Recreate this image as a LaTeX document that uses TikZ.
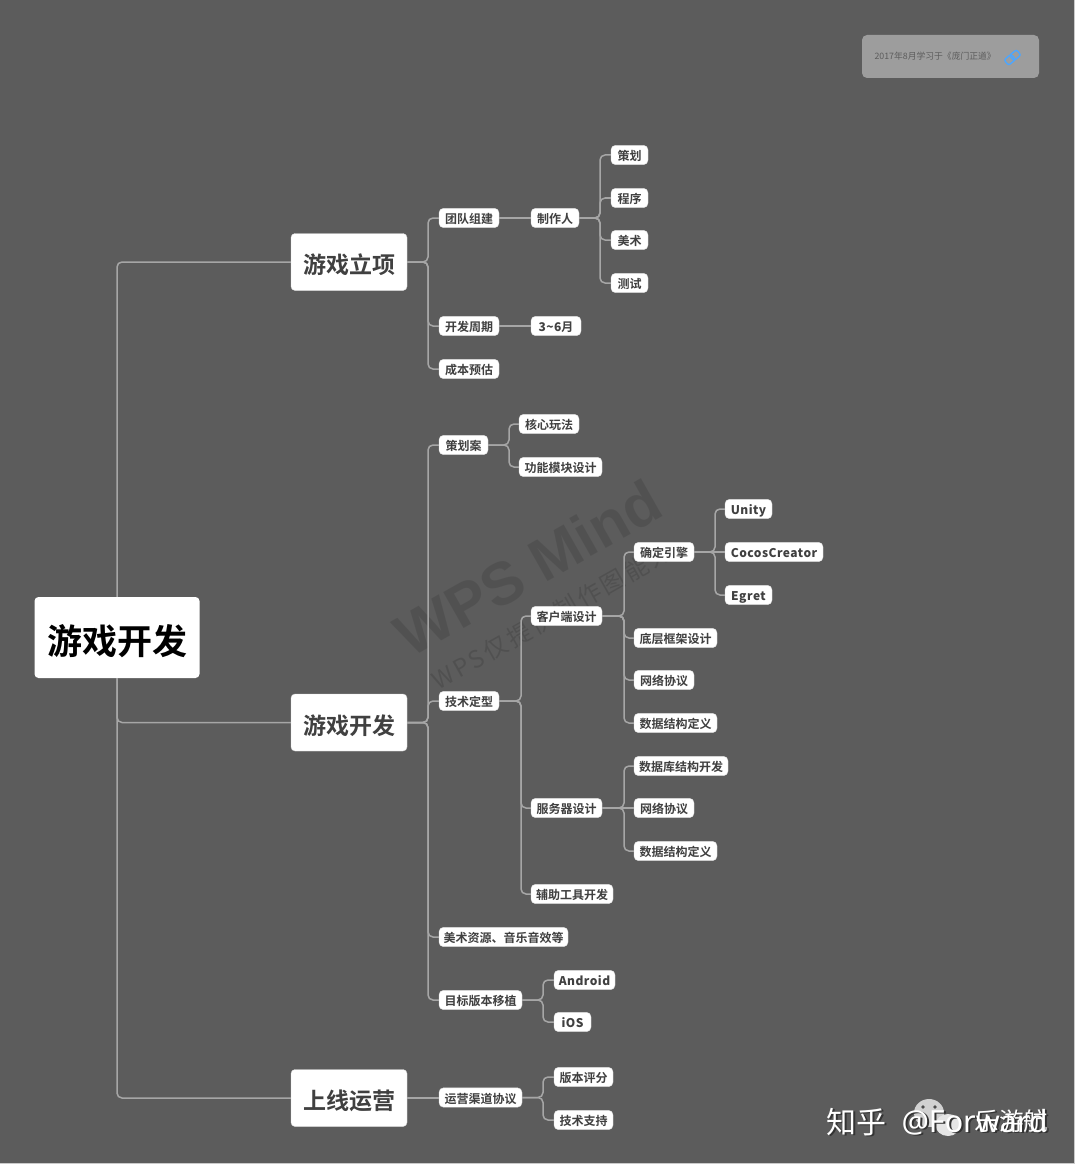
\documentclass[tikz,border=0pt]{standalone}
\usepackage{fontspec}
\setmainfont{Noto Sans CJK SC}[BoldFont={Noto Sans CJK SC Bold}]
\newfontfamily\notolat{Noto Sans}
\newfontfamily\wmfont{Liberation Sans}[BoldFont={Liberation Sans Bold}]
\newfontfamily\wmcjk{Noto Sans CJK SC}[LetterSpace=12]
\newfontfamily\latleaf{Noto Sans CJK SC Medium}[LetterSpace=4]
\definecolor{bgc}{HTML}{5C5C5C}
\definecolor{linec}{HTML}{A6A6A6}
\definecolor{txtc}{HTML}{404040}
\tikzset{
 x=1pt,y=-1pt,
 leafbox/.style={fill=white,draw=white!85!black,line width=.4pt,rounded corners=4.5pt,inner sep=0pt,font=\bfseries\fontsize{12}{12}\selectfont,text=txtc,anchor=center,minimum height=19.4pt},
 mainbox/.style={fill=white,draw=white!85!black,line width=.4pt,rounded corners=4pt,inner sep=0pt,font=\bfseries\fontsize{23}{23}\selectfont,text=txtc,minimum width=116pt,minimum height=57pt},
 rootbox/.style={fill=white,rounded corners=4pt,inner sep=0pt,font=\bfseries\fontsize{35}{35}\selectfont,text=black,minimum width=165pt,minimum height=81pt},
 conn/.style={draw=linec,line width=1.5pt,rounded corners=5pt},
 sigtxt/.style={text=white,anchor=west},
 sigshadow/.style={text=black!80,anchor=west},
}
\newcommand{\tlow}[2]{\raisebox{-#1pt}[0pt][0pt]{#2}}
\newcommand{\lf}[5]{\node[leafbox,minimum width=#3pt-#2pt] (#1) at ({(#2+#3)/2},#4) {\tlow{5.6}{#5}};}
% elbow connector from parent to child through a vertical bus
\newcommand{\cn}[3]{\draw[conn] (#1.east) -- (#3,0 |- #1.east) -- (#3,0 |- #2.west) -- (#2.west);}
% straight connector
\newcommand{\cs}[2]{\draw[draw=linec,line width=1.5pt] (#1.east) -- (#1.east -| #2.west);}
\begin{document}
\begin{tikzpicture}
\useasboundingbox (0,0) rectangle (1080,1169);
\fill[white] (0,0) rectangle (1080,1169);
\fill[linec!60!white] (0,0) rectangle (1075,1164);
\fill[bgc] (0,0) rectangle (1073.5,1162.5);
% watermark
\node[rotate=29.5,font=\wmfont\bfseries\fontsize{60}{60}\selectfont,text=black,opacity=.11] (wm1) at (528,568) {WPS Mind};
\node[rotate=29.5,font=\wmcjk\fontsize{24}{24}\selectfont,text=black,opacity=.12] (wm2) at (552,616) {WPS仅提供制作图能力};
% link box
\node[fill=white,fill opacity=.4,rounded corners=5pt,minimum width=177pt,minimum height=43pt,inner sep=0pt] (link) at (950.5,56.5) {};
\node[font=\fontsize{8.8}{9}\selectfont,text=txtc,opacity=.7,anchor=west] (linktxt) at (871,56.5) {2017年8月学习于《庞门正道》};
\begin{scope}[draw=blue!50!cyan!70!white,line width=1.4pt,shift={(1012.5,57.5)},rotate=40]
\draw[rounded corners=2pt] (-8,-3.5) rectangle (1,3.5);
\draw[rounded corners=2pt] (-1,-3.5) rectangle (8,3.5);
\end{scope}
% nodes
\node[rootbox] (root) at (117,637.5) {\tlow{16.5}{游戏开发}};
\node[mainbox] (m1) at (349,262) {\tlow{11.5}{游戏立项}};
\node[mainbox] (m2) at (349,722.5) {\tlow{11.5}{游戏开发}};
\node[mainbox] (m3) at (349,1098) {\tlow{11.5}{上线运营}};
\lf{a1}{439}{499}{218}{团队组建}
\lf{a2}{531}{579}{218}{制作人}
\lf{a3}{611}{648}{155}{策划}
\lf{a4}{611}{648}{198}{程序}
\lf{a5}{611}{648}{240}{美术}
\lf{a6}{611}{648}{283}{测试}
\lf{b1}{439}{499}{326}{开发周期}
\lf{b2}{531}{581}{326}{{\latleaf 3\textasciitilde6}月}
\lf{c1}{439}{499}{369}{成本预估}
\lf{d1}{439}{488}{445}{策划案}
\lf{d2}{519}{579}{424}{核心玩法}
\lf{d3}{519}{602}{467}{功能模块设计}
\lf{e1}{439}{499}{701}{技术定型}
\lf{e2}{531}{602}{616}{客户端设计}
\lf{e3}{634}{694}{552}{确定引擎}
\lf{e4}{725}{772}{509}{\latleaf Unity}
\lf{e5}{725}{823}{552}{\latleaf CocosCreator}
\lf{e6}{725}{772}{595}{\latleaf Egret}
\lf{e7}{634}{717}{638}{底层框架设计}
\lf{e8}{634}{694}{680}{网络协议}
\lf{e9}{634}{717}{723}{数据结构定义}
\lf{f1}{531}{602}{808}{服务器设计}
\lf{f2}{634}{728}{766}{数据库结构开发}
\lf{f3}{634}{694}{808}{网络协议}
\lf{f4}{634}{717}{851}{数据结构定义}
\lf{g1}{531}{613}{894}{辅助工具开发}
\lf{h1}{439}{568}{937}{美术资源、音乐音效等}
\lf{i1}{439}{522}{1000}{目标版本移植}
\lf{i2}{554}{615}{980}{\latleaf Android}
\lf{i3}{554}{591}{1022}{\latleaf iOS}
\lf{j1}{439}{522}{1097.5}{运营渠道协议}
\lf{j2}{554}{613}{1077}{版本评分}
\lf{j3}{554}{613}{1120}{技术支持}
% connectors
\draw[conn] (root.north) -- (117,262) -- (m1.west);
\draw[conn] (root.south) -- (117,722.5) -- (m2.west);
\draw[conn] (root.south) -- (117,1098) -- (m3.west);
\foreach \c in {a1,b1,c1} {\cn{m1}{\c}{428}}
\foreach \c in {d1,e1,h1,i1} {\cn{m2}{\c}{428}}
\cs{m3}{j1}
\cs{a1}{a2}
\foreach \c in {a3,a4,a5,a6} {\cn{a2}{\c}{600}}
\cs{b1}{b2}
\foreach \c in {d2,d3} {\cn{d1}{\c}{509}}
\foreach \c in {e2,f1,g1} {\cn{e1}{\c}{521}}
\foreach \c in {e3,e7,e8,e9} {\cn{e2}{\c}{624}}
\foreach \c in {e4,e6} {\cn{e3}{\c}{715}}
\cs{e3}{e5}
\foreach \c in {f2,f4} {\cn{f1}{\c}{624}}
\cs{f1}{f3}
\foreach \c in {i2,i3} {\cn{i1}{\c}{543}}
\foreach \c in {j2,j3} {\cn{j1}{\c}{543}}
% bottom signature
\fill[white!82!black] (929,1113) ellipse (15 and 14);
\fill[black!70] (923,1107) circle (1.8) (935,1107) circle (1.8);
\fill[white!90!black] (948,1125) ellipse (12.5 and 11);
\node[font=\fontsize{30}{30}\selectfont,sigshadow] (zhs) at (825,1123.5) {知乎};
\node[font=\notolat\fontsize{30.5}{30}\selectfont,sigshadow] (fws) at (900,1123.5) {@Forward};
\node[font=\fontsize{24.5}{25}\selectfont,sigshadow] (les) at (972.5,1122.5) {乐游航};
\node[font=\fontsize{30}{30}\selectfont,sigtxt] (zh) at (823,1122) {知乎};
\node[font=\notolat\fontsize{30.5}{30}\selectfont,sigtxt] (fw) at (898,1122) {@Forward};
\node[font=\fontsize{24.5}{25}\selectfont,sigtxt] (le) at (971,1121) {乐游航};
\end{tikzpicture}
\end{document}
